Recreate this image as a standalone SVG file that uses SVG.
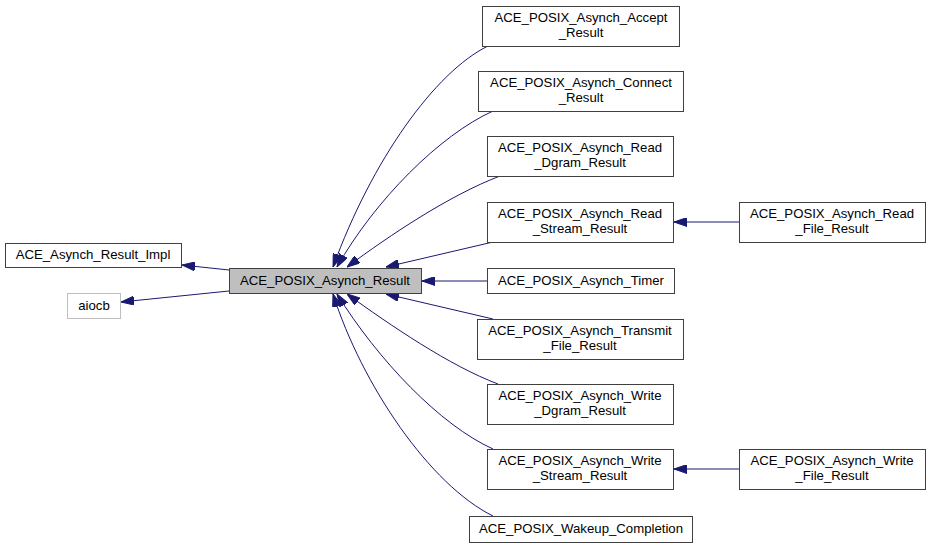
<svg xmlns="http://www.w3.org/2000/svg" width="931" height="547" viewBox="0 0 931 547">
<style>
.n rect{fill:#ffffff;stroke:#404040;stroke-width:1}
.n text{font-family:"Liberation Sans",Arial,sans-serif;font-size:13.2px;fill:#000000;text-anchor:middle}
#cur rect{fill:#bfbfbf}
#aiocb rect{stroke:#bfbfbf}
.e path{fill:none;stroke:#191970;stroke-width:1;marker-end:url(#ah)}
</style>
<defs>
<marker id="ah" markerUnits="userSpaceOnUse" markerWidth="13" markerHeight="9" refX="13" refY="4.5" orient="auto">
<path d="M0,0 L13,4.5 L0,9 z" fill="#191970" stroke="#191970" stroke-width="1"/>
</marker>
</defs>
<rect width="931" height="547" fill="#ffffff"/>
<g id="edges" class="e">
<path d="M488,46 C435,72 372,160 333,267"/>
<path d="M493,111 C440,135 375,200 337,267"/>
<path d="M500,176 C450,195 390,235 347,267"/>
<path d="M493,242 L386,267"/>
<path d="M487,281 L422,281"/>
<path d="M493,319 L386,294"/>
<path d="M498,384 C450,366 390,325 347,294"/>
<path d="M493,449 C440,425 378,360 337,294"/>
<path d="M493,516 C430,485 362,385 333,294"/>
<path d="M739,222 L674,222"/>
<path d="M739,469 L674,469"/>
<path d="M229,270 L182,265"/>
<path d="M229,291 L121,302"/>
</g>
<g id="impl" class="n"><rect x="5.5" y="243.5" width="176" height="24"/><text x="93" y="259">ACE_Asynch_Result_Impl</text></g>
<g id="aiocb" class="n"><rect x="67.5" y="293.5" width="53" height="25"/><text x="94" y="310">aiocb</text></g>
<g id="cur" class="n"><rect x="229.5" y="268.5" width="192" height="25"/><text x="325" y="285">ACE_POSIX_Asynch_Result</text></g>
<g id="accept" class="n"><rect x="482.5" y="6.5" width="197" height="40"/><text x="581" y="22">ACE_POSIX_Asynch_Accept</text><text x="581" y="37">_Result</text></g>
<g id="connect" class="n"><rect x="478.5" y="71.5" width="205" height="40"/><text x="581" y="87">ACE_POSIX_Asynch_Connect</text><text x="581" y="102">_Result</text></g>
<g id="rdgram" class="n"><rect x="487.5" y="136.5" width="186" height="40"/><text x="580" y="152">ACE_POSIX_Asynch_Read</text><text x="580" y="167">_Dgram_Result</text></g>
<g id="rstream" class="n"><rect x="487.5" y="202.5" width="186" height="40"/><text x="580" y="218">ACE_POSIX_Asynch_Read</text><text x="580" y="233">_Stream_Result</text></g>
<g id="rfile" class="n"><rect x="739.5" y="202.5" width="186" height="40"/><text x="832" y="218">ACE_POSIX_Asynch_Read</text><text x="832" y="233">_File_Result</text></g>
<g id="timer" class="n"><rect x="487.5" y="268.5" width="187" height="25"/><text x="581" y="285">ACE_POSIX_Asynch_Timer</text></g>
<g id="transmit" class="n"><rect x="477.5" y="319.5" width="206" height="40"/><text x="580" y="335">ACE_POSIX_Asynch_Transmit</text><text x="580" y="350">_File_Result</text></g>
<g id="wdgram" class="n"><rect x="487.5" y="384.5" width="186" height="40"/><text x="580" y="400">ACE_POSIX_Asynch_Write</text><text x="580" y="415">_Dgram_Result</text></g>
<g id="wstream" class="n"><rect x="487.5" y="449.5" width="186" height="40"/><text x="580" y="465">ACE_POSIX_Asynch_Write</text><text x="580" y="480">_Stream_Result</text></g>
<g id="wfile" class="n"><rect x="739.5" y="449.5" width="186" height="40"/><text x="832" y="465">ACE_POSIX_Asynch_Write</text><text x="832" y="480">_File_Result</text></g>
<g id="wakeup" class="n"><rect x="469.5" y="516.5" width="223" height="26"/><text x="581" y="533">ACE_POSIX_Wakeup_Completion</text></g>
</svg>
